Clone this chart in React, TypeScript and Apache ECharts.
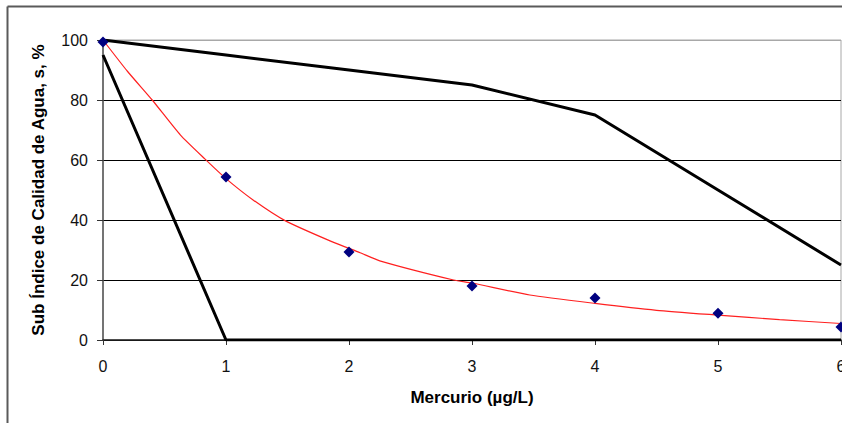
import React, { useEffect, useRef } from "react";
import * as echarts from "echarts";

const xTicks = [0, 1, 2, 3, 4, 5, 6];
const upperLimit: [number, number][] = [[0, 100], [1, 95], [2, 90], [3, 85], [4, 75], [5, 50], [6, 25]];
const lowerLimit: [number, number][] = [[0, 95], [1, 0], [6, 0]];
const observed: [number, number][] = [[0, 99.3], [1, 54.3], [2, 29.3], [3, 18], [4, 14], [5, 8.9], [6, 4.3]];
const fitCurve: [number, number][] = [
  [0, 100], [0.2, 89.5], [0.4, 80], [0.63, 68.3], [0.83, 60.3], [1, 53.8], [1.22, 46.7],
  [1.48, 39.8], [1.86, 32.8], [2.09, 29.1], [2.25, 26.4], [2.85, 20], [3, 19], [3.47, 15],
  [4, 12.2], [4.5, 9.9], [5, 8.3], [5.5, 6.8], [6, 5.5],
];

export default function App() {
  const ref = useRef<HTMLDivElement>(null);
  useEffect(() => {
    if (!ref.current) return;
    const chart = echarts.init(ref.current, null, { renderer: "svg" });
    const font = "Arial, 'Liberation Sans', sans-serif";
    chart.setOption({
      animation: false,
      backgroundColor: "#fff",
      textStyle: { fontFamily: font },
      grid: {
        left: 103, top: 40, right: 1, bottom: 83,
        outerBoundsMode: "none", containLabel: false,
        show: true, borderColor: "#a8a8a8", borderWidth: 1, backgroundColor: "transparent",
      },
      xAxis: {
        type: "value", min: 0, max: 6, interval: 1,
        name: "Mercurio (µg/L)", nameLocation: "middle", nameGap: 49,
        nameTextStyle: { fontFamily: font, fontSize: 17, fontWeight: "bold", color: "#000" },
        axisLine: { show: true, lineStyle: { color: "#222", width: 1.5 } },
        axisTick: { show: true, length: 5, inside: false, lineStyle: { color: "#333" } },
        axisLabel: { fontFamily: font, fontSize: 16, color: "#111", margin: 18,
          formatter: (v: number) => (xTicks.includes(v) ? String(v) : "") },
        splitLine: { show: false },
      },
      yAxis: {
        type: "value", min: 0, max: 100, interval: 20,
        name: "Sub Índice de Calidad de Agua, s, %", nameLocation: "middle", nameGap: 56,
        nameTextStyle: { fontFamily: font, fontSize: 17, fontWeight: "bold", color: "#000" },
        axisLine: { show: true, lineStyle: { color: "#555", width: 1.5 } },
        axisTick: { show: true, length: 6, inside: false, lineStyle: { color: "#333" } },
        axisLabel: { fontFamily: font, fontSize: 16, color: "#111", margin: 15 },
        splitLine: { show: true, lineStyle: { color: ["#000", "#000", "#000", "#000", "#000", "#a8a8a8"], width: 1 } },
      },
      graphic: [
        { type: "line", shape: { x1: 7.5, y1: 6.5, x2: 842, y2: 6.5 }, style: { stroke: "#5a5a5a", lineWidth: 2 }, silent: true },
        { type: "line", shape: { x1: 7.5, y1: 6.5, x2: 7.5, y2: 423 }, style: { stroke: "#5a5a5a", lineWidth: 2 }, silent: true },
      ],
      series: [
        {
          type: "line", data: upperLimit, symbol: "none",
          lineStyle: { color: "#000", width: 3 }, z: 3,
        },
        {
          type: "line", data: lowerLimit, symbol: "none",
          lineStyle: { color: "#000", width: 3 }, z: 3,
        },
        {
          type: "line", data: fitCurve, symbol: "none", smooth: 0.2,
          lineStyle: { color: "#ff2020", width: 1.2 }, z: 4,
        },
        {
          type: "scatter", data: observed, symbol: "diamond", symbolSize: 11,
          itemStyle: { color: "#000080", opacity: 1 }, z: 5,
        },
      ],
    });
    return () => chart.dispose();
  }, []);
  return <div ref={ref} style={{ position: "absolute", left: 0, top: 0, width: 842, height: 423 }} />;
}
